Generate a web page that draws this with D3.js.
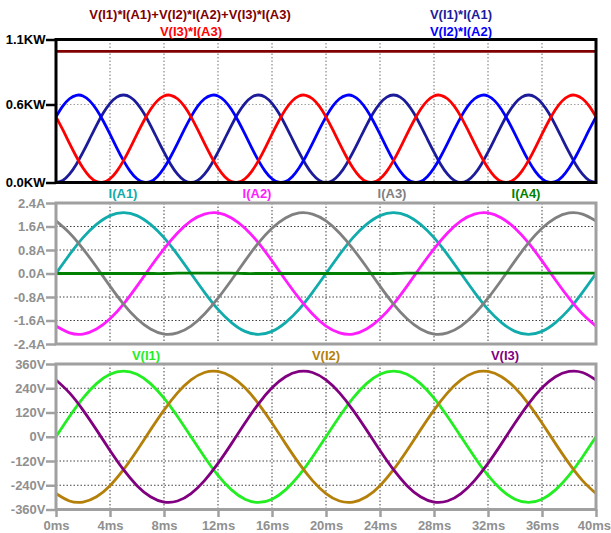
<!DOCTYPE html>
<html>
<head>
<meta charset="utf-8">
<script src="https://cdn.jsdelivr.net/npm/d3@7"></script>
<style>
  html, body { margin: 0; padding: 0; background: #ffffff; }
  svg { display: block; }
  text { font-family: "Liberation Sans", Arial, sans-serif; font-weight: bold; font-size: 13px; }
</style>
</head>
<body>
<svg id="chart" width="611" height="533"></svg>
<script>
// ---------------- DATA ----------------
const timeTicksMs = [0, 4, 8, 12, 16, 20, 24, 28, 32, 36, 40];
const timeTickLabels = ["0ms","4ms","8ms","12ms","16ms","20ms","24ms","28ms","32ms","36ms","40ms"];

// sample grid (ms)
const sampleStepV = 1;     // voltages & currents sampled every 1 ms
const sampleStepP = 0.5;   // powers sampled every 0.5 ms

// Voltages (V), every 1 ms from 0 to 40 ms
const vI1 = [0,100,191,263,309,325,309,263,191,100,0,-100,-191,-263,-309,-325,-309,-263,-191,-100,
             0,100,191,263,309,325,309,263,191,100,0,-100,-191,-263,-309,-325,-309,-263,-191,-100,0];
const vI2 = [-281,-318,-323,-297,-242,-163,-68,34,132,217,281,318,323,297,242,163,68,-34,-132,-217,
             -281,-318,-323,-297,-242,-163,-68,34,132,217,281,318,323,297,242,163,68,-34,-132,-217,-281];
const vI3 = [281,217,132,34,-68,-163,-242,-297,-323,-318,-281,-217,-132,-34,68,163,242,297,323,318,
             281,217,132,34,-68,-163,-242,-297,-323,-318,-281,-217,-132,-34,68,163,242,297,323,318,281];

// Currents (A), every 1 ms
const iA1 = [0,0.64,1.22,1.67,1.97,2.07,1.97,1.67,1.22,0.64,0,-0.64,-1.22,-1.67,-1.97,-2.07,-1.97,-1.67,-1.22,-0.64,
             0,0.64,1.22,1.67,1.97,2.07,1.97,1.67,1.22,0.64,0,-0.64,-1.22,-1.67,-1.97,-2.07,-1.97,-1.67,-1.22,-0.64,0];
const iA2 = [-1.79,-2.02,-2.06,-1.89,-1.54,-1.04,-0.43,0.22,0.84,1.38,1.79,2.02,2.06,1.89,1.54,1.04,0.43,-0.22,-0.84,-1.38,
             -1.79,-2.02,-2.06,-1.89,-1.54,-1.04,-0.43,0.22,0.84,1.38,1.79,2.02,2.06,1.89,1.54,1.04,0.43,-0.22,-0.84,-1.38,-1.79];
const iA3 = [1.79,1.38,0.84,0.22,-0.43,-1.04,-1.54,-1.89,-2.06,-2.02,-1.79,-1.38,-0.84,-0.22,0.43,1.04,1.54,1.89,2.06,2.02,
             1.79,1.38,0.84,0.22,-0.43,-1.04,-1.54,-1.89,-2.06,-2.02,-1.79,-1.38,-0.84,-0.22,0.43,1.04,1.54,1.89,2.06,2.02,1.79];
const iA4 = [0,0,0,0,0,0,0,0,0,0.01,0.01,0.01,0.01,0.01,0,0,0,0,0,0,
             0,0,0,0,0,0,0.01,0.01,0.01,0.01,0.01,0.01,0.01,0.01,0.01,0.01,0.01,0.01,0.01,0.01,0.01];

// Powers (KW), every 0.5 ms
const pA1 = [0,.016,.064,.139,.233,.336,.440,.534,.609,.657,.673,.657,.609,.534,.440,.336,.233,.139,.064,.016,
             0,.016,.064,.139,.233,.336,.440,.534,.609,.657,.673,.657,.609,.534,.440,.336,.233,.139,.064,.016,
             0,.016,.064,.139,.233,.336,.440,.534,.609,.657,.673,.657,.609,.534,.440,.336,.233,.139,.064,.016,
             0,.016,.064,.139,.233,.336,.440,.534,.609,.657,.673,.657,.609,.534,.440,.336,.233,.139,.064,.016,0];
const pA2 = [.505,.587,.644,.671,.666,.628,.562,.473,.372,.267,.168,.086,.029,.002,.007,.045,.111,.200,.301,.406,
             .505,.587,.644,.671,.666,.628,.562,.473,.372,.267,.168,.086,.029,.002,.007,.045,.111,.200,.301,.406,
             .505,.587,.644,.671,.666,.628,.562,.473,.372,.267,.168,.086,.029,.002,.007,.045,.111,.200,.301,.406,
             .505,.587,.644,.671,.666,.628,.562,.473,.372,.267,.168,.086,.029,.002,.007,.045,.111,.200,.301,.406,.505];
const pA3 = [.505,.406,.301,.200,.111,.045,.007,.002,.029,.086,.168,.267,.372,.473,.562,.628,.666,.671,.644,.587,
             .505,.406,.301,.200,.111,.045,.007,.002,.029,.086,.168,.267,.372,.473,.562,.628,.666,.671,.644,.587,
             .505,.406,.301,.200,.111,.045,.007,.002,.029,.086,.168,.267,.372,.473,.562,.628,.666,.671,.644,.587,
             .505,.406,.301,.200,.111,.045,.007,.002,.029,.086,.168,.267,.372,.473,.562,.628,.666,.671,.644,.587,.505];
const pTotalTimes = [0, 40];
const pTotal = [1.009, 1.009];

// Tick values / labels
const powerTicks = [0, 0.6, 1.1];
const powerTickLabels = ["0.0KW", "0.6KW", "1.1KW"];
const currentTicks = [-2.4, -1.6, -0.8, 0, 0.8, 1.6, 2.4];
const currentTickLabels = ["-2.4A","-1.6A","-0.8A","0.0A","0.8A","1.6A","2.4A"];
const voltageTicks = [-360, -240, -120, 0, 120, 240, 360];
const voltageTickLabels = ["-360V","-240V","-120V","0V","120V","240V","360V"];

// ---------------- LAYOUT ----------------
const W = 611, H = 533;
const svg = d3.select("#chart");
svg.append("rect").attr("width", W).attr("height", H).attr("fill", "#ffffff");

const left = 56, right = 596;
const x = d3.scaleLinear().domain([0, 40]).range([left, right]);

const panels = [
  { name: "power", top: 39.5, bottom: 182.5, domain: [0, 1.1], ticks: powerTicks, labels: powerTickLabels,
    frame: "#000000", tickText: "#000000", gridH: [0.6],
    series: [
      { label: "V(I1)*I(A1)+V(I2)*I(A2)+V(I3)*I(A3)", times: pTotalTimes, values: pTotal, color: "#800000", lx: 190, ly: 18.5 },
      { label: "V(I1)*I(A1)", step: sampleStepP, values: pA1, color: "#1c1c9a", lx: 461, ly: 18.5 },
      { label: "V(I2)*I(A2)", step: sampleStepP, values: pA2, color: "#0000ff", lx: 461, ly: 35.5 },
      { label: "V(I3)*I(A3)", step: sampleStepP, values: pA3, color: "#ff0000", lx: 191, ly: 35.5 }
    ]},
  { name: "current", top: 203, bottom: 344, domain: [-2.4, 2.4], ticks: currentTicks, labels: currentTickLabels,
    frame: "#a0a0a0", tickText: "#909090", gridH: [-1.6, -0.8, 0, 0.8, 1.6],
    series: [
      { label: "I(A1)", step: sampleStepV, values: iA1, color: "#12abab", lx: 123, ly: 197.5 },
      { label: "I(A2)", step: sampleStepV, values: iA2, color: "#ff1cff", lx: 257, ly: 197.5 },
      { label: "I(A3)", step: sampleStepV, values: iA3, color: "#808080", lx: 392, ly: 197.5 },
      { label: "I(A4)", step: sampleStepV, values: iA4, color: "#008000", lx: 526, ly: 197.5 }
    ]},
  { name: "voltage", top: 364, bottom: 509.5, domain: [-360, 360], ticks: voltageTicks, labels: voltageTickLabels,
    frame: "#a0a0a0", tickText: "#909090", gridH: [-240, -120, 0, 120, 240],
    series: [
      { label: "V(I1)", step: sampleStepV, values: vI1, color: "#22ee22", lx: 146, ly: 359.5 },
      { label: "V(I2)", step: sampleStepV, values: vI2, color: "#b5800a", lx: 326, ly: 359.5 },
      { label: "V(I3)", step: sampleStepV, values: vI3, color: "#800080", lx: 505, ly: 359.5 }
    ]}
];

panels.forEach((p, pi) => {
  const y = d3.scaleLinear().domain(p.domain).range([p.bottom, p.top]);
  const g = svg.append("g");
  const clipId = "clip" + pi;
  svg.append("clipPath").attr("id", clipId)
    .append("rect").attr("x", left).attr("y", p.top).attr("width", right - left).attr("height", p.bottom - p.top);

  // grid
  const grid = g.append("g").attr("stroke", p.name === "power" ? "#707070" : "#404040")
    .attr("stroke-width", 1).attr("stroke-dasharray", "1.5,2");
  timeTicksMs.filter(t => t > 0 && t < 40).forEach(t => {
    grid.append("line").attr("x1", x(t)).attr("x2", x(t)).attr("y1", p.top).attr("y2", p.bottom);
  });
  p.gridH.forEach(v => {
    grid.append("line").attr("x1", left).attr("x2", right).attr("y1", y(v)).attr("y2", y(v))
      .attr("stroke", p.name === "power" ? "#a0a0a0" : null);
  });

  // traces
  const tg = g.append("g").attr("clip-path", `url(#${clipId})`);
  p.series.forEach(s => {
    const pts = s.values.map((v, i) => [s.times ? s.times[i] : i * s.step, v]);
    const line = d3.line().x(d => x(d[0])).y(d => y(d[1])).curve(d3.curveNatural);
    tg.append("path").attr("d", line(pts)).attr("fill", "none")
      .attr("stroke", s.color).attr("stroke-width", 2.8).attr("stroke-linejoin", "round");
  });

  // y axis
  const ya = d3.axisLeft(y).tickValues(p.ticks)
    .tickFormat((d, i) => p.labels[i]).tickSize(10).tickPadding(0.5);
  const yg = g.append("g").attr("transform", `translate(${left},0)`).call(ya);
  yg.select(".domain").remove();
  yg.selectAll(".tick line").attr("stroke", p.frame).attr("stroke-width", 2.5);
  yg.selectAll(".tick text").attr("fill", p.tickText)
    .style("font-family", "'Liberation Sans', Arial, sans-serif").style("font-weight", "bold").style("font-size", "13px");

  // frame
  g.append("rect").attr("x", left).attr("y", p.top).attr("width", right - left).attr("height", p.bottom - p.top)
    .attr("fill", "none").attr("stroke", p.frame).attr("stroke-width", 3);

  // labels
  p.series.forEach(s => {
    g.append("text").attr("x", s.lx).attr("y", s.ly).attr("text-anchor", "middle")
      .attr("fill", s.color).text(s.label);
  });

  if (p.name === "voltage") {
    const xa = d3.axisBottom(x).tickValues(timeTicksMs)
      .tickFormat((d, i) => timeTickLabels[i]).tickSize(7.5).tickPadding(3.5);
    const xg = g.append("g").attr("transform", `translate(0,${p.bottom})`).call(xa);
    xg.select(".domain").remove();
    xg.selectAll(".tick line").attr("stroke", p.frame).attr("stroke-width", 2.5);
    xg.selectAll(".tick text").attr("fill", p.tickText)
      .style("font-family", "'Liberation Sans', Arial, sans-serif").style("font-weight", "bold").style("font-size", "13px");
    // keep the last label inside the window (it sits against the right edge in the reference)
    xg.selectAll(".tick text").filter((d, i, nodes) => i === nodes.length - 1)
      .attr("text-anchor", "end").attr("x", (W - 0.5) - x(40));
  }
});
</script>
</body>
</html>
